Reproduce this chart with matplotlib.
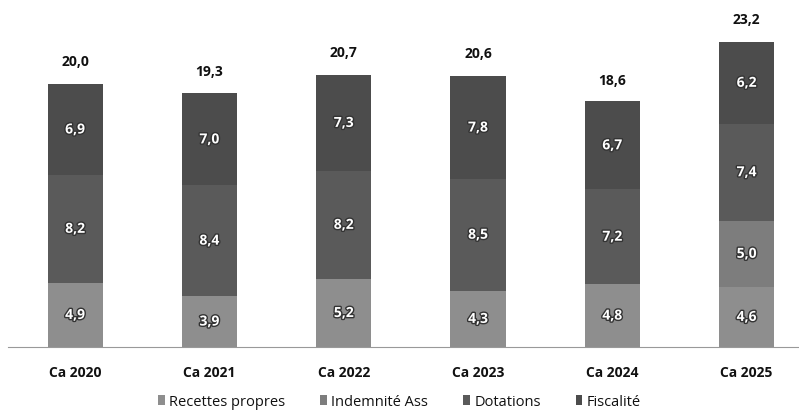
import matplotlib
matplotlib.use("Agg")
import matplotlib.pyplot as plt
import matplotlib.patheffects as pe
import numpy as np

categories = ["Ca 2020", "Ca 2021", "Ca 2022", "Ca 2023", "Ca 2024", "Ca 2025"]
recettes = [4.9, 3.9, 5.2, 4.3, 4.8, 4.6]
indemnite = [0, 0, 0, 0, 0, 5.0]
dotations = [8.2, 8.4, 8.2, 8.5, 7.2, 7.4]
fiscalite = [6.9, 7.0, 7.3, 7.8, 6.7, 6.2]
totals = [20.0, 19.3, 20.7, 20.6, 18.6, 23.2]
series_names = ["Recettes propres", "Indemnité Ass", "Dotations", "Fiscalité"]
colors = ["#8e8e8e", "#7d7d7d", "#5a5a5a", "#4c4c4c"]

plt.rcParams['font.family'] = ['Open Sans', 'DejaVu Sans']

fig = plt.figure(figsize=(7.99, 4.14), dpi=100)
ax = fig.add_axes([0.01, 0.159, 0.99, 0.826])

x = np.arange(len(categories))
bottom = np.zeros(len(categories))
for vals, name, col in zip([recettes, indemnite, dotations, fiscalite], series_names, colors):
    vals = np.array(vals, dtype=float)
    ax.bar(x, vals, 0.41, bottom=bottom, color=col, label=name,
           edgecolor="none")
    for xi, b, v in zip(x, bottom, vals):
        if v > 0:
            ax.text(xi, b + v / 2, f"{v:.1f}".replace(".", ","), ha="center", va="center",
                    color="white", fontsize=10, fontweight="bold",
                    path_effects=[pe.withStroke(linewidth=2, foreground="#333333")])
    bottom += vals

for xi, t in zip(x, totals):
    ax.text(xi, t + 1.2, f"{t:.1f}".replace(".", ","), ha="center", va="bottom",
            color="#111111", fontsize=10, fontweight="bold")

ax.set_xlim(-0.5, 5.39)
ax.set_ylim(0, 26)
ax.set_yticks([])
ax.set_xticks(x)
ax.set_xticklabels(categories, fontsize=10, fontweight="bold", color="#111111")
ax.tick_params(axis="x", length=0, pad=13)
for s in ["top", "right", "left"]:
    ax.spines[s].set_visible(False)
ax.spines["bottom"].set_color("#999999")

leg = fig.legend(loc="lower center", bbox_to_anchor=(0.5, -0.022), ncol=4, frameon=False,
                 fontsize=10.5, handlelength=0.45, handleheight=0.7, handletextpad=0.3,
                 columnspacing=2.4, labelcolor="#111111")
fig.savefig("out.png", dpi=100)
